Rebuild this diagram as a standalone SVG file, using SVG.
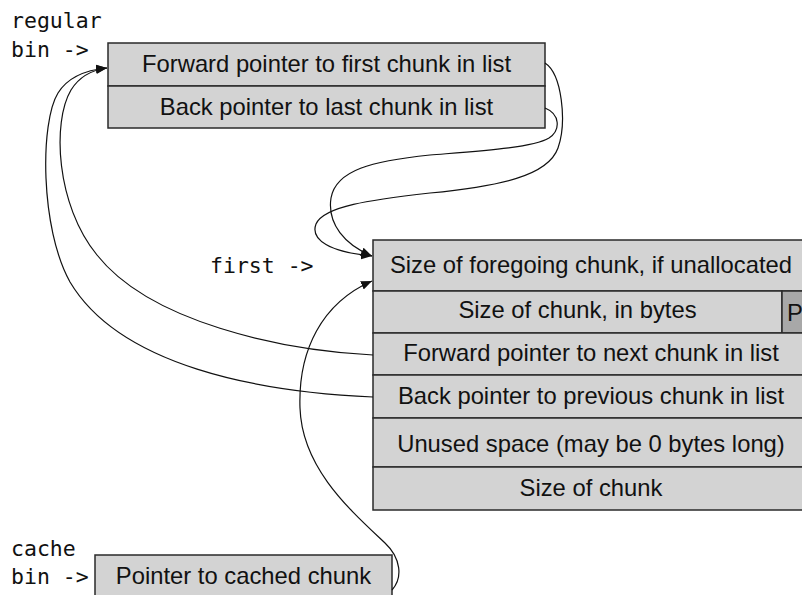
<svg xmlns="http://www.w3.org/2000/svg" width="802" height="595" viewBox="0 0 802 595">
<style>
.cell{fill:#d3d3d3;stroke:#2a2a2a;stroke-width:1.5}
.dark{fill:#a8a8a8;stroke:#2a2a2a;stroke-width:1.5}
.t{font-family:"Liberation Sans",Arial,sans-serif;font-size:23.8px;fill:#111;text-anchor:middle}
.m{font-family:"DejaVu Sans Mono","Liberation Mono",monospace;font-size:21.5px;fill:#111}
.c{fill:none;stroke:#111;stroke-width:1.2}
</style>
<defs>
<marker id="ah" markerUnits="userSpaceOnUse" markerWidth="12" markerHeight="10" refX="11" refY="4.5" orient="auto">
<path d="M0,0 L11,4.5 L0,9 z" fill="#111"/>
</marker>
</defs>
<rect width="802" height="595" fill="#fff"/>
<g id="labels">
<text class="m" x="11" y="28">regular</text>
<text class="m" x="11" y="57">bin -&gt;</text>
<text class="m" x="210" y="273">first -&gt;</text>
<text class="m" x="11" y="556">cache</text>
<text class="m" x="11" y="584">bin -&gt;</text>
</g>
<g id="regular-bin">
<rect class="cell" x="108" y="43" width="437" height="43"/>
<rect class="cell" x="108" y="86" width="437" height="42"/>
<text class="t" x="326.5" y="72">Forward pointer to first chunk in list</text>
<text class="t" x="326.5" y="115">Back pointer to last chunk in list</text>
</g>
<g id="chunk">
<rect class="cell" x="373" y="240" width="440" height="51"/>
<rect class="cell" x="373" y="291" width="409" height="42"/>
<rect class="dark" x="782" y="291" width="31" height="42"/>
<rect class="cell" x="373" y="333" width="440" height="42"/>
<rect class="cell" x="373" y="375" width="440" height="43"/>
<rect class="cell" x="373" y="418" width="440" height="49"/>
<rect class="cell" x="373" y="467" width="440" height="43"/>
<text class="t" x="591" y="273">Size of foregoing chunk, if unallocated</text>
<text class="t" x="577.5" y="318">Size of chunk, in bytes</text>
<text class="t" x="787" y="321" style="text-anchor:start">P</text>
<text class="t" x="591" y="361">Forward pointer to next chunk in list</text>
<text class="t" x="591" y="404">Back pointer to previous chunk in list</text>
<text class="t" x="591" y="452">Unused space (may be 0 bytes long)</text>
<text class="t" x="591" y="496">Size of chunk</text>
</g>
<g id="cache-bin">
<rect class="cell" x="95" y="555" width="297" height="50"/>
<text class="t" x="243.5" y="584">Pointer to cached chunk</text>
</g>
<g id="connectors">
<path class="c" d="M545,63 C562,74 567,122 558,148 C548,176 500,186 430,193 C370,200 324,206 316,224 C310,240 330,252 372,256" marker-end="url(#ah)"/>
<path class="c" d="M545,108 C560,114 561,130 549,138 C532,148 480,151 430,155 C372,161 336,170 331,198 C327,224 345,245 372,256" marker-end="url(#ah)"/>
<path class="c" d="M373,355 C280,350 150,322 97,255 C56,205 52,122 71,90 C79,77 92,70 107,68" marker-end="url(#ah)"/>
<path class="c" d="M373,397 C258,392 120,366 70,282 C40,228 40,122 58,93 C68,77 86,70 107,68" marker-end="url(#ah)"/>
<path class="c" d="M392,590 C403,578 401,558 385,543 C350,510 302,468 300,408 C298,350 322,303 372,281" marker-end="url(#ah)"/>
</g>
</svg>
